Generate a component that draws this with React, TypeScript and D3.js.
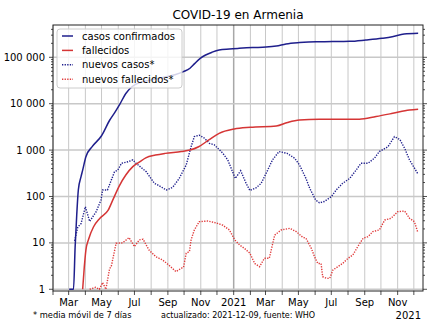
import React from 'react';
import * as d3 from 'd3';

const titleText = 'COVID-19 en Armenia';
const seriesNames = ['casos confirmados', 'fallecidos', 'nuevos casos*', 'nuevos fallecidos*'];
const footLeft = '* media móvil de 7 días';
const footRight = 'actualizado: 2021-12-09, fuente: WHO';
const yearLabel = '2021';

const yTickValues = [1, 10, 100, 1000, 10000, 100000];
const monthTickDates = [
  '2020-02-01','2020-03-01','2020-04-01','2020-05-01','2020-06-01','2020-07-01','2020-08-01','2020-09-01',
  '2020-10-01','2020-11-01','2020-12-01','2021-01-01','2021-02-01','2021-03-01','2021-04-01','2021-05-01',
  '2021-06-01','2021-07-01','2021-08-01','2021-09-01','2021-10-01','2021-11-01','2021-12-01',
];
const xLabelDates = ['2020-03-01','2020-05-01','2020-07-01','2020-09-01','2020-11-01','2021-01-01','2021-03-01','2021-05-01','2021-07-01','2021-09-01','2021-11-01'];
const xLabelTexts = ['Mar','May','Jul','Sep','Nov','2021','Mar','May','Jul','Sep','Nov'];

const casosConfirmados: [string, number][] = [
  ['2020-03-02',1],['2020-03-10',1],['2020-03-13',8],['2020-03-16',40],['2020-03-19',140],['2020-03-24',268],
  ['2020-03-27',370],['2020-04-02',720],['2020-04-14',1200],['2020-05-01',2040],['2020-05-16',4400],
  ['2020-05-26',6600],['2020-06-04',9800],['2020-06-15',16600],['2020-06-27',23500],['2020-07-10',28300],
  ['2020-07-22',31000],['2020-08-09',34000],['2020-08-27',37500],['2020-09-14',42000],['2020-09-30',49000],
  ['2020-10-12',58000],['2020-10-21',74000],['2020-10-31',95000],['2020-11-10',112000],['2020-11-22',129000],
  ['2020-12-05',144000],['2020-12-24',151000],['2021-01-11',156000],['2021-02-05',162000],['2021-03-02',166000],
  ['2021-03-21',175000],['2021-04-08',194000],['2021-05-03',208000],['2021-06-03',217000],['2021-07-04',218000],
  ['2021-08-04',221000],['2021-09-03',236000],['2021-10-03',256000],['2021-10-22',276000],['2021-11-13',318000],
  ['2021-12-09',329000],
];

const fallecidos: [string, number][] = [
  ['2020-03-27',1],['2020-03-30',3],['2020-04-02',7],['2020-04-07',12],['2020-04-16',22],['2020-04-28',34],
  ['2020-05-13',50],['2020-05-23',90],['2020-06-03',170],['2020-06-15',290],['2020-06-28',440],['2020-07-10',550],
  ['2020-07-22',680],['2020-08-09',780],['2020-08-27',850],['2020-09-26',930],['2020-10-12',1000],['2020-10-28',1180],
  ['2020-11-16',1660],['2020-12-05',2300],['2021-01-02',2850],['2021-02-01',3100],['2021-03-21',3300],
  ['2021-04-11',3950],['2021-05-03',4450],['2021-06-09',4600],['2021-08-22',4620],['2021-09-22',5300],
  ['2021-10-23',6200],['2021-11-23',7300],['2021-12-09',7600],
];

const nuevosCasos: [string, number][] = [
  ['2020-03-12',11],['2020-03-18',22],['2020-03-24',26],['2020-04-01',60],['2020-04-09',29],['2020-04-21',47],
  ['2020-04-30',84],['2020-05-03',138],['2020-05-12',138],['2020-05-25',340],['2020-05-31',370],['2020-06-07',520],
  ['2020-06-19',560],['2020-06-28',615],['2020-07-04',520],['2020-07-23',340],['2020-08-07',192],['2020-08-13',178],
  ['2020-08-29',138],['2020-09-10',158],['2020-09-22',245],['2020-10-05',480],['2020-10-14',1180],['2020-10-20',1950],
  ['2020-10-29',2100],['2020-11-08',1800],['2020-11-17',1400],['2020-11-26',1300],['2020-12-06',1000],['2020-12-12',850],
  ['2020-12-21',615],['2021-01-04',245],['2021-01-14',360],['2021-01-24',192],['2021-01-31',135],['2021-02-12',155],
  ['2021-02-21',192],['2021-03-05',370],['2021-03-14',615],['2021-03-26',930],['2021-04-10',850],['2021-04-24',670],
  ['2021-05-03',480],['2021-05-15',245],['2021-05-22',150],['2021-06-02',84],['2021-06-09',73],['2021-06-18',78],
  ['2021-07-01',99],['2021-07-10',138],['2021-07-22',192],['2021-08-04',245],['2021-08-16',370],['2021-08-25',520],
  ['2021-09-07',520],['2021-09-19',670],['2021-09-28',930],['2021-10-14',1180],['2021-10-26',1950],['2021-11-05',1700],
  ['2021-11-14',1090],['2021-11-23',615],['2021-12-08',315],
];

const nuevosFallecidos: [string, number][] = [
  ['2020-04-09',1],['2020-04-20',1.1],['2020-04-27',1],['2020-05-03',1.4],['2020-05-09',1],['2020-05-16',2.8],
  ['2020-05-19',3.1],['2020-05-28',9.8],['2020-06-09',10],['2020-06-21',13],['2020-07-01',8.3],['2020-07-10',11.6],
  ['2020-07-17',12],['2020-07-28',7],['2020-08-10',5],['2020-08-22',4.3],['2020-09-03',3.3],['2020-09-16',2.4],
  ['2020-09-25',2.8],['2020-09-30',3],['2020-10-05',6],['2020-10-11',6.5],['2020-10-14',11.6],['2020-10-20',19],
  ['2020-10-29',28.6],['2020-11-14',29.6],['2020-11-29',27],['2020-12-12',24],['2020-12-24',19],['2021-01-03',11.6],
  ['2021-01-12',9],['2021-01-21',7.6],['2021-01-31',6],['2021-02-09',3.6],['2021-02-18',3.07],['2021-02-27',4.65],
  ['2021-03-08',4.65],['2021-03-18',14.7],['2021-03-30',19],['2021-04-15',20.6],['2021-04-27',17.5],['2021-05-09',13.2],
  ['2021-05-15',12.6],['2021-05-25',7.6],['2021-05-31',5],['2021-06-06',3.6],['2021-06-12',3.6],['2021-06-15',1.87],
  ['2021-06-22',1.72],['2021-06-28',1.72],['2021-07-04',2.6],['2021-07-13',3.07],['2021-07-22',3.6],['2021-08-01',4.65],
  ['2021-08-10',5.5],['2021-08-19',8.3],['2021-08-29',12.6],['2021-09-07',13.6],['2021-09-16',17.5],['2021-09-28',19],
  ['2021-10-08',31],['2021-10-20',34],['2021-11-01',47],['2021-11-14',48.5],['2021-11-23',34],['2021-12-02',28.6],
  ['2021-12-08',17.5],
];

const BLUE = '#1f1f8c';
const RED = '#d53535';
const RED_DOT = '#e03a3a';

export default function App() {
  const parse = d3.utcParse('%Y-%m-%d');
  const L = 53, R = 423, T = 25, B = 291;
  const x = d3.scaleUtc().domain([parse('2020-02-01') as Date, parse('2021-12-18') as Date]).range([L, R]);
  const y = d3.scaleLog().domain([0.918, 497000]).range([B, T]);

  const lineSmooth = d3.line<[string, number]>()
    .x(d => x(parse(d[0]) as Date))
    .y(d => y(d[1]))
    .curve(d3.curveMonotoneX);
  const lineRaw = d3.line<[string, number]>()
    .x(d => x(parse(d[0]) as Date))
    .y(d => y(d[1]));

  const minorTicks = y.ticks().filter(v => v >= 1 && v <= 497000);
  const fmt = (v: number) => d3.format(',')(v).replace(/,/g, ' ');
  const font = 'DejaVu Sans, sans-serif';

  const legendRows = [
    { name: seriesNames[0], color: BLUE, dash: undefined },
    { name: seriesNames[1], color: RED, dash: undefined },
    { name: seriesNames[2], color: BLUE, dash: '1.3,1.3' },
    { name: seriesNames[3], color: RED_DOT, dash: '1.3,1.3' },
  ];

  return (
    <svg width={440} height={330} style={{ position: 'absolute', left: 0, top: 0, background: '#fff' }}
      fontFamily={font}>
      <rect x={0} y={0} width={440} height={330} fill="#fff" />
      {monthTickDates.map(d => {
        const xv = x(parse(d) as Date);
        const isYear = d === '2021-01-01';
        return <line key={'g' + d} x1={xv} x2={xv} y1={T} y2={B} stroke={isYear ? '#a8a8a8' : '#c8c8c8'} strokeWidth={isYear ? 1.5 : 1} />;
      })}
      {yTickValues.map(v => (
        <line key={'gy' + v} x1={L} x2={R} y1={y(v)} y2={y(v)} stroke="#c8c8c8" strokeWidth={1.5} />
      ))}
      <path d={lineRaw(nuevosFallecidos) || ''} fill="none" stroke={RED_DOT} strokeWidth={1.4} strokeDasharray="1.3,1.3" />
      <path d={lineRaw(nuevosCasos) || ''} fill="none" stroke={BLUE} strokeWidth={1.4} strokeDasharray="1.3,1.3" />
      <path d={lineSmooth(fallecidos) || ''} fill="none" stroke={RED} strokeWidth={1.5} />
      <path d={lineSmooth(casosConfirmados) || ''} fill="none" stroke={BLUE} strokeWidth={1.5} />
      <rect x={L} y={T} width={R - L} height={B - T} fill="none" stroke="#222" strokeWidth={1} />
      {minorTicks.map(v => {
        const major = yTickValues.includes(v);
        const len = major ? 4 : 2;
        return (
          <g key={'yt' + v}>
            <line x1={L - len} x2={L} y1={y(v)} y2={y(v)} stroke="#222" strokeWidth={0.8} />
            <line x1={R} x2={R + len} y1={y(v)} y2={y(v)} stroke="#222" strokeWidth={0.8} />
          </g>
        );
      })}
      {yTickValues.map(v => (
        <text key={'yl' + v} x={45} y={y(v)} dy="0.35em" textAnchor="end" fontSize={10} fill="#000">{fmt(v)}</text>
      ))}
      {monthTickDates.map(d => {
        const xv = x(parse(d) as Date);
        return <line key={'xt' + d} x1={xv} x2={xv} y1={B} y2={B + 4} stroke="#222" strokeWidth={0.8} />;
      })}
      {xLabelDates.map((d, i) => (
        <text key={'xl' + d} x={x(parse(d) as Date)} y={306} textAnchor="middle" fontSize={10} fill="#000">{xLabelTexts[i]}</text>
      ))}
      <rect x={57} y={29} width={125} height={59} rx={3} fill="#fff" fillOpacity={0.8} stroke="#cccccc" strokeWidth={1} />
      {legendRows.map((r, i) => {
        const cy = 36 + i * 14.4;
        return (
          <g key={'lg' + i}>
            <line x1={62} x2={73} y1={cy} y2={cy} stroke={r.color} strokeWidth={1.5} strokeDasharray={r.dash} />
            <text x={82} y={cy} dy="0.35em" fontSize={10} fill="#000">{r.name}</text>
          </g>
        );
      })}
      <text x={238} y={19} textAnchor="middle" fontSize={12} fill="#000">{titleText}</text>
      <text x={33} y={318} fontSize={8.3} fill="#000">{footLeft}</text>
      <text x={161} y={318} fontSize={8} fill="#000">{footRight}</text>
      <text x={421} y={319} textAnchor="end" fontSize={10} fill="#000">{yearLabel}</text>
    </svg>
  );
}
